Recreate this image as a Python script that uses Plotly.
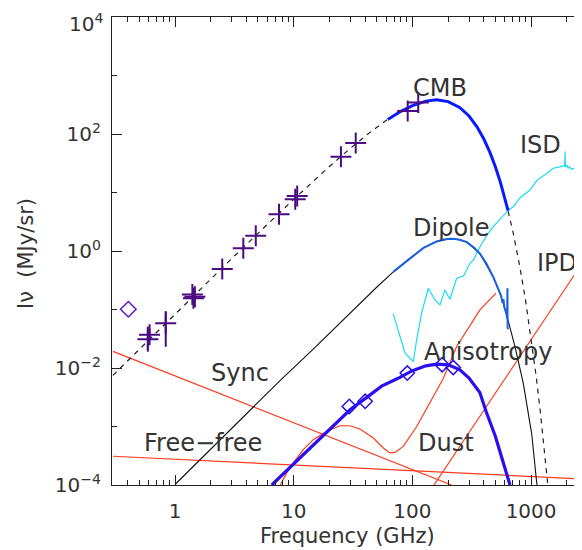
import plotly.graph_objects as go

# ---------------- data ----------------
cmb_f = [0.3, 0.5, 1, 2, 3, 5, 10, 20, 30, 45, 60, 80, 100, 130, 160, 200, 250, 300, 350,
         400, 450, 500, 550, 600, 700, 800, 900, 1000, 1100, 1200, 1300, 1400]
cmb_v = [0.0075, 0.0209, 0.083, 0.33, 0.74, 2.0, 7.64, 27.9, 57, 111, 170, 244, 305, 365, 383,
         358, 285, 203, 133, 82, 48.5, 27.6, 15.2, 8.2, 2.23, 0.57, 0.14, 0.033, 0.0076, 0.0017,
         3.7e-4, 7.9e-5]

cmbmeas_f = [62, 80, 100, 130, 160, 200, 250, 300, 350, 400, 450, 500, 550, 600, 640]
cmbmeas_v = [177, 244, 305, 365, 383, 358, 285, 203, 133, 82, 48.5, 27.6, 15.2, 8.2, 4.9]

dip_f = [1, 3, 7.67, 14.6, 28, 50, 69, 90, 124, 160, 207, 250, 287, 371, 480, 547, 623, 731,
         859, 1012, 1115, 1200]
dip_v = [1.02e-4, 9.2e-4, 6.1e-3, 0.021, 0.077, 0.24, 0.44, 0.69, 1.13, 1.45, 1.62, 1.56, 1.42,
         0.9, 0.36, 0.19, 0.08, 0.0234, 5.5e-3, 7.5e-4, 1.1e-4, 4.5e-5]

dipmeas_f = [69, 80, 90, 105, 124, 145, 160, 185, 207, 230, 250, 287, 330, 371, 420, 480, 520,
             547, 560, 575, 585, 595, 610, 620, 628, 632, 634, 638]
dipmeas_v = [0.44, 0.56, 0.69, 0.88, 1.13, 1.32, 1.45, 1.57, 1.62, 1.6, 1.56, 1.42, 1.15, 0.9,
             0.61, 0.36, 0.25, 0.19, 0.17, 0.13, 0.15, 0.11, 0.095, 0.085, 0.07, 0.23, 0.05, 0.046]

isd_f = [69, 86.7, 101.8, 108.6, 119.6, 136, 155, 171, 188, 207, 236, 269, 306, 326, 371, 420,
         480, 550, 643, 708, 800, 979, 1115, 1352, 1538, 1750, 1866, 1920, 1935, 1950, 2000, 2050,
         2100, 2200, 2300, 2400, 2500, 2600, 2700]
isd_v = [0.084, 0.018, 0.0129, 0.0303, 0.0865, 0.231, 0.146, 0.12, 0.216, 0.15, 0.342, 0.374,
         0.617, 0.70, 1.18, 1.8, 2.6, 3.6, 5.0, 5.7, 8.0, 11, 16, 21.2, 26, 27.5, 28, 29, 50, 27,
         29.5, 26, 27.5, 25, 26, 23.5, 24, 22, 23]

aniso_f = [6.53, 10, 15, 20, 30, 40, 55, 75, 100, 130, 160, 200, 250, 300, 370, 420, 500, 580, 664]
aniso_v = [1.0e-4, 2.3e-4, 5.0e-4, 8.6e-4, 1.95e-3, 3.0e-3, 4.9e-3, 6.6e-3, 9.0e-3, 0.0109,
           0.01167, 0.0113, 9.4e-3, 6.75e-3, 3.8e-3, 1.75e-3, 6.8e-4, 2.5e-4, 1.0e-4]

dust_f = [7.67, 8.73, 9.92, 12.05, 14.6, 18.97, 24.5, 29.8, 36.2, 46.9, 56.9, 64.8, 71.3, 83.8,
          108.7, 145.4, 182, 236, 371, 506]
dust_v = [9.8e-5, 1.61e-4, 2.38e-4, 4.02e-4, 5.96e-4, 8.25e-4, 1.03e-3, 1.03e-3, 9.06e-4,
          6.37e-4, 4.3e-4, 3.53e-4, 3.61e-4, 4.57e-4, 1.0e-3, 2.87e-3, 6.6e-3, 0.0233, 0.0984, 0.19]

sync_f = [0.3, 214]
sync_v = [0.0192, 1.0e-4]
ff_f = [0.3, 2700]
ff_v = [3.1e-4, 1.27e-4]
ipd_f = [152, 2700]
ipd_v = [1.0e-4, 0.62]

plus_f = [0.59, 0.61, 0.835, 1.40, 1.43, 1.47, 2.5, 3.76, 4.79, 7.52, 10.3, 10.7, 25, 33.3, 91.3, 112]
plus_v = [0.031, 0.037, 0.058, 0.18, 0.155, 0.165, 0.49, 1.11, 1.82, 4.23, 7.7, 8.7, 40.7, 70.5, 248, 345]
plus_err_hi = [0.020, 0.010, 0.036, 0, 0, 0, 0, 0, 0, 0, 0, 0, 0, 0, 0, 0]
plus_err_lo = [0.012, 0.008, 0.035, 0, 0, 0, 0, 0, 0, 0, 0, 0, 0, 0, 0, 0]

adiam_f = [29.4, 40, 90.6, 178, 221]
adiam_v = [0.0022, 0.0027, 0.0082, 0.0114, 0.0102]
ldiam_f = [0.404]
ldiam_v = [0.101]

x_tickvals = [1, 10, 100, 1000]
x_ticktext = ["1", "10", "100", "1000"]
x_minor = [0.3, 0.4, 0.5, 0.6, 0.7, 0.8, 0.9, 2, 3, 4, 5, 6, 7, 8, 9, 20, 30, 40, 50, 60, 70,
           80, 90, 200, 300, 400, 500, 600, 700, 800, 900, 2000]
y_tickvals = [1e-4, 1e-2, 1, 1e2, 1e4]
y_ticktext = ["10<sup>−4</sup>", "10<sup>−2</sup>", "10<sup>0</sup>", "10<sup>2</sup>", "10<sup>4</sup>"]
y_minor = [1e-3, 1e-1, 10, 1e3]

labels = ["CMB", "ISD", "T", "Dipole", "IPD", "T", "Anisotropy", "Sync", "Free−free", "Dust"]

# ---------------- figure ----------------
FONT = "DejaVu Sans"
TXT = "#333333"
RED = "#ff3a1e"
PURPLE = "#4a0c80"
fig = go.Figure()


def line(x, y, color, width, dash=None):
    fig.add_trace(go.Scatter(x=x, y=y, mode="lines",
                             line=dict(color=color, width=width, dash=dash),
                             hoverinfo="skip"))


line(sync_f, sync_v, RED, 1.2)
line(ff_f, ff_v, RED, 1.2)
line(ipd_f, ipd_v, RED, 1.2)
line(dust_f, dust_v, RED, 1.2)
line(cmb_f, cmb_v, "#222222", 1.2, dash="5px,5px")
line(dip_f, dip_v, "#111111", 1.1)
line(isd_f, isd_v, "#19dcf5", 1.2)
line(dipmeas_f, dipmeas_v, "#1a62e0", 2)
line(cmbmeas_f, cmbmeas_v, "#0a1aff", 3)
line(aniso_f, aniso_v, "#2a10f0", 3.2)

fig.add_trace(go.Scatter(
    x=plus_f, y=plus_v, mode="markers",
    marker=dict(symbol="cross-thin-open", size=15, color=PURPLE,
                line=dict(color=PURPLE, width=2)),
    error_y=dict(type="data", array=plus_err_hi, arrayminus=plus_err_lo, color=PURPLE,
                 thickness=2, width=0),
    hoverinfo="skip"))
fig.add_trace(go.Scatter(
    x=adiam_f, y=adiam_v, mode="markers",
    marker=dict(symbol="diamond-open", size=11, color="#2a10e8",
                line=dict(color="#2a10e8", width=1.5)),
    hoverinfo="skip"))
fig.add_trace(go.Scatter(
    x=ldiam_f, y=ldiam_v, mode="markers",
    marker=dict(symbol="diamond-open", size=12, color="#5a18c8",
                line=dict(color="#5a18c8", width=1.5)),
    hoverinfo="skip"))

# page pixel geometry of the plot box (the page body adds an 8px offset)
OFF = 8
L, R, T, B = 112, 582, 17, 485


def P(px, py):
    return (px - L) / (R - L), (B - py) / (B - T)


label_pos = [(440, 88, "center"), (540, 145, "center"), (573, 145, "left"),
             (451, 228, "center"), (535, 263, "left"), (574, 263, "left"),
             (488, 352, "center"), (240, 373, "center"), (203, 443, "center"),
             (446, 443, "center")]
for txt, (px, py, anc) in zip(labels, label_pos):
    x, y = P(px, py)
    fig.add_annotation(x=x, y=y, xref="paper", yref="paper", text=txt, showarrow=False,
                       xanchor=anc, yanchor="middle",
                       font=dict(family=FONT, size=24, color=TXT))

# top y tick label is drawn just inside the page, as in the reference
top_label = y_ticktext[-1]
y_ticktext_axis = y_ticktext[:-1] + [""]
xt, yt = P(105, 23)
fig.add_annotation(x=xt, y=yt, xref="paper", yref="paper", text=top_label,
                   showarrow=False, xanchor="right", yanchor="middle",
                   font=dict(family=FONT, size=20, color=TXT))

xt, yt = P(347, 536)
fig.add_annotation(x=xt, y=yt, xref="paper", yref="paper", text="Frequency (GHz)",
                   showarrow=False, xanchor="center", yanchor="middle",
                   font=dict(family=FONT, size=21, color=TXT))
xt, yt = P(26, 254)
fig.add_annotation(x=xt, y=yt, xref="paper", yref="paper", text="I\u03bd  (MJy/sr)",
                   showarrow=False, xanchor="center", yanchor="middle", textangle=-90,
                   font=dict(family=FONT, size=21, color=TXT))

axis_common = dict(type="log", showgrid=False, zeroline=False, showline=True,
                   linecolor="#222", linewidth=1.2, ticks="inside", ticklen=10,
                   tickwidth=1.2, tickcolor="#222", automargin=False,
                   ticklabeloverflow="allow",
                   tickfont=dict(family=FONT, size=20, color=TXT))
fig.update_xaxes(**axis_common, range=[-0.531, 3.429], mirror="ticks",
                 tickvals=x_tickvals, ticktext=x_ticktext, ticklabelstandoff=8,
                 minor=dict(tickvals=x_minor, ticks="inside", ticklen=5, tickwidth=1.2,
                            tickcolor="#222"))
fig.update_yaxes(**axis_common, range=[-4, 4], mirror=False,
                 tickvals=y_tickvals, ticktext=y_ticktext_axis, ticklabelstandoff=6,
                 minor=dict(tickvals=y_minor, ticks="inside", ticklen=5, tickwidth=1.2,
                            tickcolor="#222"))

W, H = 582 - OFF, 550 - OFF
fig.update_layout(width=W, height=H,
                  margin=dict(l=L - OFF, r=0, t=T - OFF, b=H - (B - OFF)),
                  plot_bgcolor="white", paper_bgcolor="white", showlegend=False)

fig.write_html("out.html")
